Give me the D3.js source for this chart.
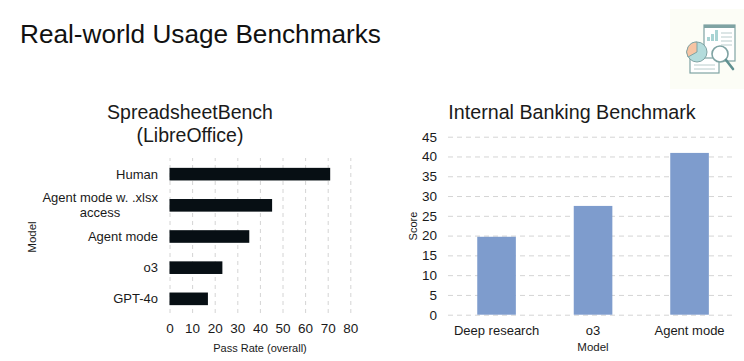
<!DOCTYPE html>
<html>
<head>
<meta charset="utf-8">
<script src="https://cdn.jsdelivr.net/npm/d3@7"></script>
<style>
  html, body { margin: 0; padding: 0; background: #fff; overflow: hidden; }
  svg { display: block; font-family: "Liberation Sans", Arial, sans-serif; }
</style>
</head>
<body>
<svg id="slide" width="744" height="361"></svg>
<script>
// ── Data ─────────────────────────────────────────────────────────────────
const sheetModels = ["Human", "Agent mode w. .xlsx access", "Agent mode", "o3", "GPT-4o"];
const sheetScores = [71.1, 45.4, 35.3, 23.4, 17];
const sheetTicks  = [0, 10, 20, 30, 40, 50, 60, 70, 80];

const bankModels = ["Deep research", "o3", "Agent mode"];
const bankScores = [19.7, 27.5, 40.9];
const bankTicks  = [0, 5, 10, 15, 20, 25, 30, 35, 40, 45];

const svg = d3.select("#slide");
const grid = "#d4d4d4";
const ink  = "#1a1a1a";

function label(x, y, text, size, anchor = "middle") {
  return svg.append("text")
    .attr("x", x).attr("y", y)
    .attr("text-anchor", anchor)
    .attr("font-size", size).attr("fill", ink)
    .text(text);
}

// ── Slide title ──────────────────────────────────────────────────────────
label(20, 43, "Real-world Usage Benchmarks", 26.2, "start").attr("fill", "#111");

// ── Left: SpreadsheetBench ───────────────────────────────────────────────
label(190, 118.5, "SpreadsheetBench", 19.5);
label(190, 142, "(LibreOffice)", 19.5);

const xL = d3.scaleLinear().domain([0, 80]).range([169.5, 350.3]);
const yL = d3.scaleBand().domain(sheetModels).range([158.5, 314.5])
  .paddingInner(0.595).paddingOuter(0.3);

svg.append("g")
  .attr("transform", "translate(0,313)")
  .call(d3.axisBottom(xL).tickValues(sheetTicks).tickSize(-155).tickPadding(10))
  .call(ax => ax.select(".domain").remove())
  .call(ax => ax.selectAll("line").attr("stroke", grid).attr("stroke-dasharray", "4,4"))
  .call(ax => ax.selectAll("text").attr("fill", ink).attr("font-size", 13.5)
    .attr("font-family", "Liberation Sans"));

svg.selectAll(".sheet-bar")
  .data(sheetModels).join("rect").attr("class", "sheet-bar")
  .attr("x", xL(0))
  .attr("y", d => yL(d))
  .attr("width", (d, i) => xL(sheetScores[i]) - xL(0))
  .attr("height", yL.bandwidth())
  .attr("fill", "#070f14");

svg.selectAll(".sheet-label")
  .data(sheetModels).join("text").attr("class", "sheet-label")
  .attr("x", 158)
  .attr("y", d => yL(d) + yL.bandwidth() / 2)
  .attr("dy", "0.35em").attr("text-anchor", "end")
  .attr("font-size", 13).attr("fill", ink)
  .each(function (d) {
    if (d !== "Agent mode w. .xlsx access") { d3.select(this).text(d); return; }
    // long label wraps in two lines, second one centred under the first
    d3.select(this).attr("dy", null).attr("y", 202).text("Agent mode w. .xlsx");
    label(100, 217, "access", 13);
  });

label(0, 0, "Model", 11.5)
  .attr("transform", "translate(36,237) rotate(-90)");
label(260, 351.5, "Pass Rate (overall)", 11);

// ── Right: Internal Banking Benchmark ────────────────────────────────────
label(572, 118.5, "Internal Banking Benchmark", 19.7);

const xR = d3.scaleBand().domain(bankModels).range([448.3, 737.8])
  .paddingInner(0.6).paddingOuter(0.3);
const yR = d3.scaleLinear().domain([0, 45]).range([314.7, 136.7]);

svg.append("g")
  .attr("transform", "translate(448,0)")
  .call(d3.axisLeft(yR).tickValues(bankTicks).tickSize(-287).tickPadding(11))
  .call(ax => ax.select(".domain").remove())
  .call(ax => ax.selectAll("line").attr("stroke", grid).attr("stroke-dasharray", "5,4"))
  .call(ax => ax.selectAll("text").attr("fill", ink).attr("font-size", 13.5)
    .attr("font-family", "Liberation Sans"));

svg.selectAll(".bank-bar")
  .data(bankModels).join("rect").attr("class", "bank-bar")
  .attr("x", d => xR(d))
  .attr("y", (d, i) => yR(bankScores[i]))
  .attr("width", xR.bandwidth())
  .attr("height", (d, i) => yR(0) - yR(bankScores[i]))
  .attr("fill", "#7e9ccd");

svg.selectAll(".bank-label")
  .data(bankModels).join("text").attr("class", "bank-label")
  .attr("x", d => xR(d) + xR.bandwidth() / 2)
  .attr("y", 335)
  .attr("text-anchor", "middle")
  .attr("font-size", 13).attr("fill", ink)
  .text(d => d);

label(0, 0, "Score", 11)
  .attr("transform", "translate(417,226) rotate(-90)");
label(593, 351, "Model", 11.5);

// ── Decorative report icon (top right) ───────────────────────────────────
const icon = svg.append("g").attr("fill", "none");
icon.append("rect").attr("x", 670).attr("y", 9).attr("width", 74).attr("height", 80)
  .attr("fill", "#fcfdf6").attr("stroke", "none");
const teal = "#7fa3a3";
icon.append("rect").attr("x", 704).attr("y", 25).attr("width", 31).attr("height", 36)
  .attr("fill", "#fff").attr("stroke", teal).attr("stroke-width", 1.2);
icon.append("rect").attr("x", 704).attr("y", 25).attr("width", 31).attr("height", 3).attr("fill", teal);
[[707, 37, 4], [711, 34, 7], [715, 30, 11]].forEach(([x, y, h]) =>
  icon.append("rect").attr("x", x).attr("y", y).attr("width", 3).attr("height", h).attr("fill", "#a8d3d3"));
[33, 37, 41, 45].forEach(y =>
  icon.append("line").attr("x1", 721).attr("x2", 732).attr("y1", y).attr("y2", y).attr("stroke", "#b9cccc"));
icon.append("rect").attr("x", 690).attr("y", 58).attr("width", 29).attr("height", 15)
  .attr("fill", "#fff").attr("stroke", teal).attr("stroke-width", 1.2);
[65, 69].forEach(y =>
  icon.append("line").attr("x1", 694).attr("x2", 715).attr("y1", y).attr("y2", y).attr("stroke", "#b9cccc"));
icon.append("circle").attr("cx", 697).attr("cy", 52).attr("r", 10)
  .attr("fill", "#b4dcdc").attr("stroke", teal);
icon.append("path").attr("d", "M697,52 L697,42 A10,10 0 0 0 688,57 Z").attr("fill", "#f7c4a3").attr("stroke", teal);
icon.append("circle").attr("cx", 720).attr("cy", 54).attr("r", 8)
  .attr("fill", "#fff").attr("stroke", teal).attr("stroke-width", 1.6);
icon.append("line").attr("x1", 726).attr("y1", 60).attr("x2", 733).attr("y2", 69)
  .attr("stroke", "#5f9090").attr("stroke-width", 2.6).attr("stroke-linecap", "round");
</script>
</body>
</html>
